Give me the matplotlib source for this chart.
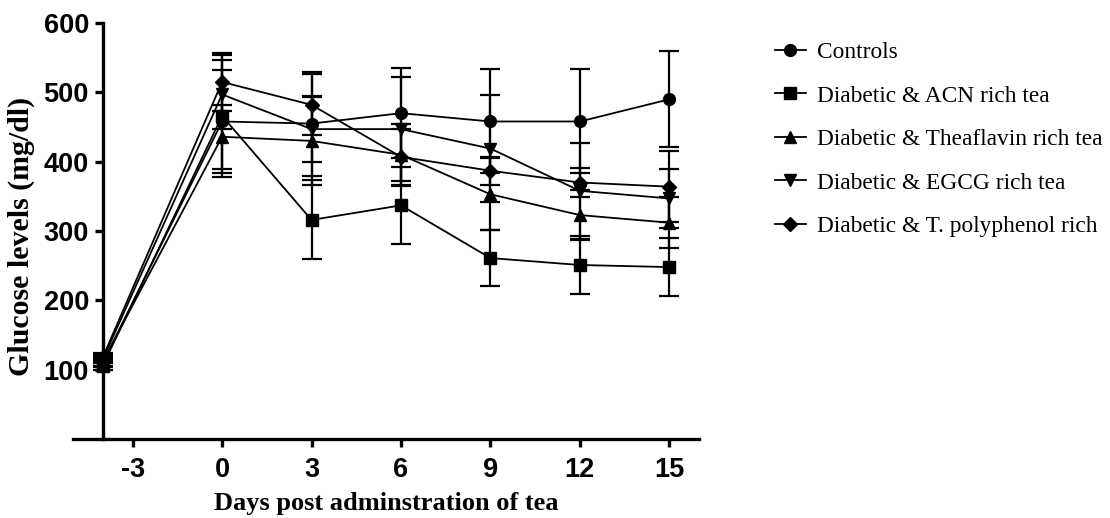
import matplotlib
matplotlib.use("Agg")
import matplotlib.pyplot as plt
from matplotlib.lines import Line2D

plt.rcParams["axes.unicode_minus"] = False

days = [-4, 0, 3, 6, 9, 12, 15]

controls = [110, 458, 455, 470, 458, 458, 490]
controls_sd = [6, 74, 75, 65, 75, 75, 69]

acn = [106, 466, 316, 337, 261, 251, 248]
acn_sd = [6, 88, 57, 55, 41, 42, 42]

theaflavin = [112, 436, 430, 410, 353, 323, 312]
theaflavin_sd = [6, 46, 63, 45, 52, 36, 37]

egcg = [115, 497, 447, 447, 419, 358, 347]
egcg_sd = [6, 50, 48, 75, 77, 69, 42]

polyphenol = [118, 515, 482, 407, 387, 370, 364]
polyphenol_sd = [6, 42, 44, 40, 20, 21, 51]

series = [
    ("Controls", controls, controls_sd, "o"),
    ("Diabetic & ACN rich tea", acn, acn_sd, "s"),
    ("Diabetic & Theaflavin rich tea", theaflavin, theaflavin_sd, "^"),
    ("Diabetic & EGCG rich tea", egcg, egcg_sd, "v"),
    ("Diabetic & T. polyphenol rich", polyphenol, polyphenol_sd, "D"),
]

fig = plt.figure(figsize=(11.1, 5.18), dpi=100)
ax = fig.add_axes([0.0658, 0.1525, 0.564, 0.803])

handles = []
for name, vals, sd, mk in series:
    ms = 7 if mk == "D" else 8.5
    ax.errorbar(days, vals, yerr=sd, color="black", marker=mk, markersize=ms,
                linewidth=1.3, elinewidth=1.6, capsize=7, capthick=1.6,
                clip_on=False)
    # legend shows only the line and marker, no error bar
    handles.append(Line2D([], [], color="black", marker=mk, markersize=ms,
                          linewidth=1.3, label=name))

ax.set_xlim(-5, 16)
ax.set_ylim(0, 600)
ax.set_xticks([-3, 0, 3, 6, 9, 12, 15])
ax.set_yticks([100, 200, 300, 400, 500, 600])

ax.spines["top"].set_visible(False)
ax.spines["right"].set_visible(False)
ax.spines["left"].set_position(("data", -4))
ax.spines["left"].set_linewidth(2.4)
ax.spines["bottom"].set_linewidth(2.4)
ax.tick_params(axis="both", width=2.4, length=6, direction="out")
ax.tick_params(axis="x", pad=7)
ax.tick_params(axis="y", pad=4)

for lbl in ax.get_xticklabels() + ax.get_yticklabels():
    lbl.set_fontfamily("Liberation Sans")
    lbl.set_fontweight("bold")
    lbl.set_fontsize(19.5)

ax.set_xlabel("Days post adminstration of tea", fontfamily="Liberation Serif",
              fontweight="bold", fontsize=19, labelpad=6.5)
fig.text(0.019, 0.543, "Glucose levels (mg/dl)", rotation=90, va="center", ha="center",
         fontfamily="Liberation Serif", fontweight="bold", fontsize=21.5)

fig.legend(handles=handles, loc="upper left", bbox_to_anchor=(0.679, 0.96),
           frameon=False, prop={"family": "Liberation Serif", "size": 16.8},
           handlelength=1.35, handletextpad=0.45, labelspacing=0.95)

fig.savefig("out.png", dpi=100)
